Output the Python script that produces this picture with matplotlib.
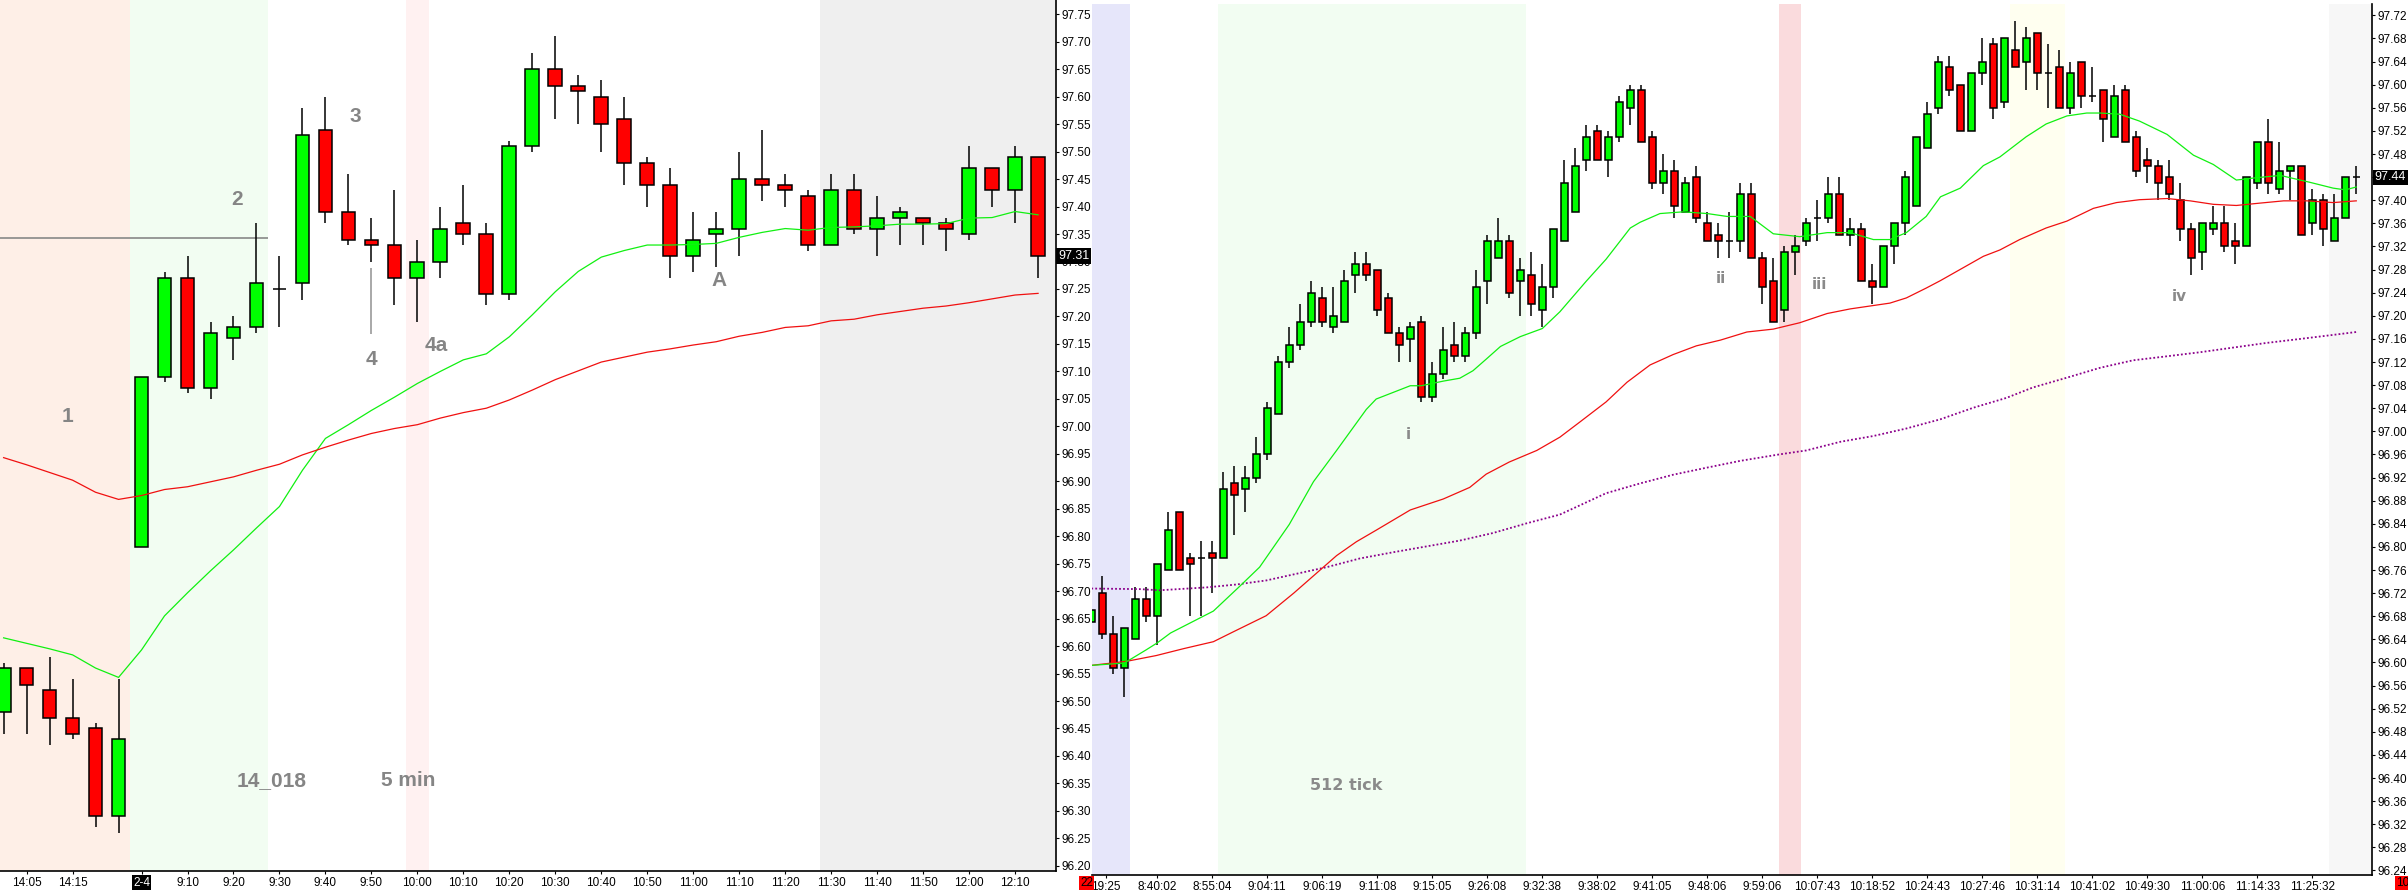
import numpy as np
import matplotlib
matplotlib.use("Agg")
import matplotlib.pyplot as plt

plt.rcParams['font.family'] = ['Liberation Sans', 'DejaVu Sans']

# ---------------- left panel: 5 min bars ----------------
left_open = [96.48, 96.56, 96.52, 96.47, 96.45, 96.29, 96.78, 97.09, 97.27, 97.07,
             97.16, 97.18, 97.25, 97.26, 97.54, 97.39, 97.34, 97.33, 97.27, 97.30,
             97.37, 97.35, 97.24, 97.51, 97.65, 97.62, 97.60, 97.56, 97.48, 97.44,
             97.31, 97.35, 97.36, 97.45, 97.44, 97.42, 97.33, 97.43, 97.36, 97.38,
             97.38, 97.37, 97.35, 97.47, 97.43, 97.49]
left_high = [96.57, 96.56, 96.58, 96.54, 96.46, 96.54, 97.09, 97.28, 97.31, 97.19,
             97.20, 97.37, 97.31, 97.58, 97.60, 97.46, 97.38, 97.43, 97.34, 97.40,
             97.44, 97.37, 97.52, 97.68, 97.71, 97.64, 97.63, 97.60, 97.49, 97.47,
             97.39, 97.39, 97.50, 97.54, 97.46, 97.43, 97.46, 97.46, 97.42, 97.40,
             97.38, 97.38, 97.51, 97.47, 97.51, 97.49]
left_low = [96.44, 96.44, 96.42, 96.43, 96.27, 96.26, 96.78, 97.08, 97.06, 97.05,
            97.12, 97.17, 97.18, 97.23, 97.37, 97.33, 97.30, 97.22, 97.19, 97.27,
            97.33, 97.22, 97.23, 97.50, 97.56, 97.55, 97.50, 97.44, 97.40, 97.27,
            97.28, 97.29, 97.31, 97.41, 97.40, 97.32, 97.33, 97.35, 97.31, 97.33,
            97.33, 97.32, 97.34, 97.40, 97.37, 97.27]
left_close = [96.56, 96.53, 96.47, 96.44, 96.29, 96.43, 97.09, 97.27, 97.07, 97.17,
              97.18, 97.26, 97.25, 97.53, 97.39, 97.34, 97.33, 97.27, 97.30, 97.36,
              97.35, 97.24, 97.51, 97.65, 97.62, 97.61, 97.55, 97.48, 97.44, 97.31,
              97.34, 97.36, 97.45, 97.44, 97.43, 97.33, 97.43, 97.36, 97.38, 97.39,
              97.37, 97.36, 97.47, 97.43, 97.49, 97.31]

left_ema_fast = [96.615, 96.605, 96.595, 96.584, 96.560, 96.543, 96.593, 96.655, 96.697, 96.737,
                 96.775, 96.815, 96.854, 96.920, 96.978, 97.003, 97.029, 97.053, 97.078, 97.100,
                 97.121, 97.132, 97.163, 97.203, 97.245, 97.282, 97.308, 97.320, 97.330, 97.330,
                 97.331, 97.333, 97.344, 97.353, 97.360, 97.357, 97.362, 97.363, 97.365, 97.368,
                 97.368, 97.369, 97.379, 97.380, 97.391, 97.385]
left_ema_slow = [96.943, 96.930, 96.916, 96.902, 96.880, 96.867, 96.874, 96.885, 96.890, 96.899,
                 96.908, 96.920, 96.931, 96.948, 96.962, 96.975, 96.987, 96.996, 97.003, 97.015,
                 97.025, 97.033, 97.048, 97.066, 97.085, 97.101, 97.117, 97.126, 97.135, 97.141,
                 97.148, 97.154, 97.164, 97.171, 97.180, 97.183, 97.192, 97.195, 97.203, 97.209,
                 97.215, 97.219, 97.225, 97.232, 97.239, 97.242]

left_tick_pos = [1, 3, 6, 8, 10, 12, 14, 16, 18, 20, 22, 24, 26, 28, 30, 32, 34, 36, 38, 40, 42, 44]
left_tick_lab = ['14:05', '14:15', '2-4', '9:10', '9:20', '9:30', '9:40', '9:50', '10:00', '10:10',
                 '10:20', '10:30', '10:40', '10:50', '11:00', '11:10', '11:20', '11:30', '11:40',
                 '11:50', '12:00', '12:10']
left_notes = [('1', 2.76, 97.018), ('2', 10.17, 97.412), ('3', 15.3, 97.564), ('4', 16.0, 97.121),
              ('4a', 18.83, 97.148), ('A', 31.12, 97.266), ('14_018', 11.67, 96.356),
              ('5 min', 17.61, 96.356)]
left_last = 97.31

# ---------------- right panel: 512 tick bars ----------------
right_open = [96.67, 96.72, 96.65, 96.59, 96.64, 96.71, 96.68, 96.76, 96.86, 96.78,
              96.78, 96.79, 96.78, 96.91, 96.90, 96.92, 96.96, 97.03, 97.12, 97.15,
              97.19, 97.23, 97.18, 97.19, 97.27, 97.29, 97.28, 97.23, 97.17, 97.16,
              97.19, 97.06, 97.10, 97.15, 97.13, 97.17, 97.26, 97.30, 97.33, 97.26,
              97.27, 97.21, 97.25, 97.33, 97.38, 97.47, 97.52, 97.47, 97.51, 97.56,
              97.59, 97.51, 97.43, 97.45, 97.38, 97.44, 97.36, 97.34, 97.33, 97.33,
              97.41, 97.30, 97.26, 97.21, 97.31, 97.33, 97.37, 97.37, 97.41, 97.34,
              97.35, 97.26, 97.25, 97.32, 97.36, 97.39, 97.49, 97.56, 97.63, 97.60,
              97.52, 97.62, 97.67, 97.57, 97.66, 97.64, 97.69, 97.62, 97.63, 97.56,
              97.64, 97.58, 97.59, 97.51, 97.59, 97.51, 97.47, 97.46, 97.44, 97.40,
              97.35, 97.31, 97.35, 97.36, 97.33, 97.32, 97.43, 97.50, 97.42, 97.45,
              97.46, 97.36, 97.40, 97.33, 97.37, 97.44]
right_high = [96.69, 96.75, 96.68, 96.66, 96.73, 96.73, 96.77, 96.86, 96.86, 96.79,
              96.81, 96.81, 96.93, 96.94, 96.94, 96.99, 97.05, 97.13, 97.18, 97.22,
              97.26, 97.25, 97.25, 97.28, 97.31, 97.31, 97.28, 97.24, 97.18, 97.19,
              97.20, 97.12, 97.18, 97.19, 97.18, 97.28, 97.34, 97.37, 97.34, 97.30,
              97.31, 97.29, 97.35, 97.47, 97.49, 97.53, 97.53, 97.52, 97.58, 97.60,
              97.60, 97.52, 97.48, 97.47, 97.44, 97.46, 97.38, 97.36, 97.38, 97.43,
              97.43, 97.31, 97.30, 97.32, 97.34, 97.37, 97.40, 97.44, 97.44, 97.37,
              97.36, 97.29, 97.32, 97.36, 97.45, 97.51, 97.57, 97.65, 97.65, 97.60,
              97.62, 97.68, 97.68, 97.68, 97.71, 97.70, 97.69, 97.67, 97.66, 97.64,
              97.64, 97.63, 97.59, 97.60, 97.60, 97.52, 97.49, 97.47, 97.47, 97.43,
              97.36, 97.36, 97.39, 97.39, 97.36, 97.44, 97.50, 97.54, 97.50, 97.46,
              97.46, 97.42, 97.41, 97.41, 97.44, 97.46]
right_low = [96.67, 96.64, 96.58, 96.54, 96.64, 96.67, 96.63, 96.76, 96.76, 96.68,
             96.68, 96.72, 96.78, 96.82, 96.86, 96.91, 96.95, 97.03, 97.11, 97.14,
             97.18, 97.18, 97.17, 97.19, 97.24, 97.26, 97.20, 97.17, 97.12, 97.12,
             97.05, 97.05, 97.09, 97.12, 97.12, 97.16, 97.22, 97.30, 97.23, 97.20,
             97.20, 97.18, 97.23, 97.33, 97.38, 97.45, 97.47, 97.44, 97.50, 97.53,
             97.50, 97.42, 97.41, 97.37, 97.38, 97.36, 97.33, 97.30, 97.30, 97.31,
             97.30, 97.22, 97.19, 97.19, 97.27, 97.32, 97.33, 97.36, 97.34, 97.32,
             97.26, 97.22, 97.25, 97.29, 97.34, 97.39, 97.49, 97.55, 97.58, 97.52,
             97.52, 97.60, 97.54, 97.56, 97.63, 97.59, 97.59, 97.56, 97.56, 97.55,
             97.56, 97.57, 97.50, 97.51, 97.50, 97.44, 97.43, 97.40, 97.40, 97.33,
             97.27, 97.28, 97.34, 97.31, 97.29, 97.32, 97.42, 97.41, 97.41, 97.40,
             97.34, 97.34, 97.32, 97.33, 97.37, 97.41]
right_close = [96.69, 96.65, 96.59, 96.66, 96.71, 96.68, 96.77, 96.83, 96.76, 96.77,
               96.78, 96.78, 96.90, 96.89, 96.92, 96.96, 97.04, 97.12, 97.15, 97.19,
               97.24, 97.19, 97.20, 97.26, 97.29, 97.27, 97.21, 97.17, 97.15, 97.18,
               97.06, 97.10, 97.14, 97.13, 97.17, 97.25, 97.33, 97.33, 97.24, 97.28,
               97.22, 97.25, 97.35, 97.43, 97.46, 97.51, 97.47, 97.51, 97.57, 97.59,
               97.50, 97.43, 97.45, 97.39, 97.43, 97.37, 97.33, 97.33, 97.33, 97.41,
               97.30, 97.25, 97.19, 97.31, 97.32, 97.36, 97.37, 97.41, 97.34, 97.35,
               97.26, 97.25, 97.32, 97.36, 97.44, 97.51, 97.55, 97.64, 97.59, 97.52,
               97.62, 97.64, 97.56, 97.68, 97.63, 97.68, 97.62, 97.62, 97.56, 97.62,
               97.58, 97.58, 97.54, 97.58, 97.50, 97.45, 97.46, 97.43, 97.41, 97.35,
               97.30, 97.36, 97.36, 97.32, 97.32, 97.44, 97.50, 97.43, 97.45, 97.46,
               97.34, 97.40, 97.35, 97.37, 97.44, 97.44]

right_fast_x = [0, 3, 5, 6, 7.2, 11.1, 13.5, 15.3, 18, 20.2, 22.3, 25, 25.9, 29, 30, 32, 33.5,
                34.7, 35.9, 37.2, 39, 41, 42.6, 45, 46.8, 49, 49.9, 51.7, 53.8, 56, 57.8, 59.9,
                62, 64.4, 66.9, 69, 71.1, 72.6, 74.1, 75.9, 77.2, 79, 81.1, 82.6, 85, 86.8,
                88.7, 90.5, 91.7, 93.5, 95.3, 97.8, 100.2, 102, 104.1, 105.9, 108.1, 110.8,
                112.9, 114, 115]
right_fast_y = [96.595, 96.599, 96.622, 96.634, 96.651, 96.689, 96.732, 96.765, 96.839, 96.913,
                96.967, 97.038, 97.056, 97.079, 97.079, 97.087, 97.092, 97.105, 97.125, 97.147,
                97.164, 97.178, 97.207, 97.260, 97.298, 97.352, 97.362, 97.377, 97.380, 97.377,
                97.372, 97.372, 97.342, 97.337, 97.344, 97.344, 97.332, 97.332, 97.344, 97.372,
                97.406, 97.421, 97.460, 97.475, 97.510, 97.532, 97.546, 97.551, 97.551, 97.549,
                97.537, 97.514, 97.478, 97.462, 97.435, 97.439, 97.443, 97.431, 97.421, 97.418,
                97.423]
right_slow_x = [0, 3.2, 5.9, 8.4, 11.1, 12.9, 15.9, 18.4, 20.2, 22.3, 24.1, 25.9, 29, 32, 34.4,
                35.9, 38, 40.5, 42.6, 44.4, 46.8, 48.7, 50.8, 52.9, 55, 57.2, 59.6, 62, 64.4,
                66.9, 69, 72.6, 74.1, 75.9, 77.2, 81.1, 82.6, 84.4, 86.8, 88.7, 91.1, 93.2,
                95.3, 97.8, 99.9, 102, 104.1, 106.2, 108.4, 110.5, 112.9, 115]
right_slow_y = [96.595, 96.602, 96.612, 96.624, 96.636, 96.653, 96.681, 96.720, 96.750, 96.785,
                96.809, 96.829, 96.864, 96.883, 96.903, 96.926, 96.947, 96.967, 96.990, 97.016,
                97.051, 97.085, 97.115, 97.133, 97.148, 97.158, 97.172, 97.177, 97.188, 97.204,
                97.212, 97.222, 97.231, 97.248, 97.261, 97.303, 97.314, 97.332, 97.352, 97.364,
                97.386, 97.396, 97.401, 97.403, 97.399, 97.393, 97.391, 97.395, 97.399, 97.399,
                97.396, 97.399]
right_long_x = [0, 4.4, 6.2, 10.5, 13.2, 15.9, 19, 21.4, 24.4, 27.5, 30.5, 33.5, 36.5, 39.6,
                42.6, 46.8, 49.9, 52.9, 55.9, 59, 62.5, 65, 68.1, 71.1, 74.1, 77.2, 80.2, 83.2,
                85.6, 88.7, 91.7, 94.7, 97.8, 100.8, 103.8, 106.8, 109.9, 112.9, 115]
right_long_y = [96.728, 96.727, 96.725, 96.730, 96.735, 96.742, 96.755, 96.765, 96.780, 96.791,
                96.801, 96.811, 96.824, 96.841, 96.856, 96.893, 96.910, 96.925, 96.937, 96.949,
                96.960, 96.967, 96.982, 96.992, 97.005, 97.021, 97.041, 97.058, 97.076, 97.093,
                97.110, 97.123, 97.130, 97.137, 97.145, 97.153, 97.160, 97.167, 97.172]

right_tick_pos = [1.3, 6, 11, 16, 21, 26, 31, 36, 41, 46, 51, 56, 61, 66, 71, 76, 81, 86, 91,
                  96, 101, 106, 111]
right_tick_lab = ['19:25', '8:40:02', '8:55:04', '9:04:11', '9:06:19', '9:11:08', '9:15:05',
                  '9:26:08', '9:32:38', '9:38:02', '9:41:05', '9:48:06', '9:59:06', '10:07:43',
                  '10:18:52', '10:24:43', '10:27:46', '10:31:14', '10:41:02', '10:49:30',
                  '11:00:06', '11:14:33', '11:25:32']
right_notes = [('i', 28.8, 96.995), ('ii', 57.2, 97.265), ('iii', 66.2, 97.255),
               ('iv', 98.9, 97.233), ('512 tick', 23.2, 96.387)]
right_last = 97.44


def draw_candles(ax, o, h, l, c, width):
    o, h, l, c = map(np.asarray, (o, h, l, c))
    x = np.arange(len(o))
    ax.vlines(x, l, h, color='black', lw=1.1, zorder=2)
    up = c > o
    dn = c < o
    dj = c == o
    ax.bar(x[up], (c - o)[up], width, bottom=o[up], color='#00FF00',
           edgecolor='black', lw=1.1, zorder=3)
    ax.bar(x[dn], (o - c)[dn], width, bottom=c[dn], color='#FF0000',
           edgecolor='black', lw=1.1, zorder=3)
    ax.hlines(c[dj], x[dj] - width / 2, x[dj] + width / 2, color='black', lw=1.1, zorder=3)


def style_axis(ax):
    for s in ['top', 'left']:
        ax.spines[s].set_visible(False)
    for s in ['bottom', 'right']:
        ax.spines[s].set_linewidth(1.2)
    ax.yaxis.tick_right()
    ax.tick_params(axis='both', length=2.5, width=0.8, pad=1.5, labelsize=8.5, colors='black')


W, H = 2408, 894
fig = plt.figure(figsize=(W / 100, H / 100), dpi=100, facecolor='white')

# ---- left
axl = fig.add_axes([0, 23 / H, 1056 / W, 871 / H])
axl.set_xlim(-0.157, 45.78)
axl.set_ylim(96.1906, 97.776)
axl.axvspan(-1, 5.5, color='#FEEFE7', lw=0, zorder=0)
axl.axvspan(5.5, 11.5, color='#F2FDF2', lw=0, zorder=0)
axl.axvspan(17.5, 18.5, color='#FFF1F1', lw=0, zorder=0)
axl.axvspan(35.5, 47, color='#EFEFEF', lw=0, zorder=0)
axl.hlines(97.342, -1, 11.5, color='#888888', lw=1.2, zorder=1)
axl.vlines(16, 97.168, 97.288, color='#999999', lw=1.2, zorder=1)
axl.plot(range(len(left_ema_fast)), left_ema_fast, color='#11F011', lw=0.9, zorder=4)
axl.plot(range(len(left_ema_slow)), left_ema_slow, color='#F01010', lw=0.9, zorder=4)
draw_candles(axl, left_open, left_high, left_low, left_close, 0.6)
style_axis(axl)
axl.set_yticks(np.round(np.arange(96.20, 97.751, 0.05), 2))
axl.set_yticklabels(['%.2f' % v for v in np.arange(96.20, 97.751, 0.05)])
axl.set_xticks(left_tick_pos)
axl.set_xticklabels(left_tick_lab)
for lbl in axl.get_xticklabels():
    if lbl.get_text() == '2-4':
        lbl.set_color('white')
        lbl.set_bbox(dict(facecolor='black', edgecolor='none', pad=1.0))
for txt, xi, yi in left_notes:
    axl.text(xi, yi, txt, color='#858585', fontsize=15, fontweight='bold',
             ha='center', va='center', zorder=6)
axl.text(1.002, left_last, '%.2f' % left_last, transform=axl.get_yaxis_transform(),
         ha='left', va='center', color='white', fontsize=9, zorder=10, clip_on=False,
         bbox=dict(facecolor='black', edgecolor='none', pad=1.2))

# ---- right
axr = fig.add_axes([1092 / W, 19 / H, 1280 / W, 871 / H])
axr.set_xlim(0.064, 116.43)
axr.set_ylim(96.2322, 97.7397)
axr.axvspan(-1, 3.5, color='#E6E6FA', lw=0, zorder=0)
axr.axvspan(11.5, 39.5, color='#F2FDF2', lw=0, zorder=0)
axr.axvspan(62.5, 64.5, color='#FADBDD', lw=0, zorder=0)
axr.axvspan(83.5, 88.5, color='#FFFFF0', lw=0, zorder=0)
axr.axvspan(112.5, 118, color='#F7F7F7', lw=0, zorder=0)
axr.plot(right_long_x, right_long_y, color='#8B008B', lw=1.3, ls=(0, (1, 1.2)), zorder=4)
axr.plot(right_slow_x, right_slow_y, color='#F01010', lw=0.9, zorder=4)
axr.plot(right_fast_x, right_fast_y, color='#11F011', lw=0.9, zorder=4)
draw_candles(axr, right_open, right_high, right_low, right_close, 0.6)
style_axis(axr)
axr.set_yticks(np.round(np.arange(96.24, 97.721, 0.04), 2))
axr.set_yticklabels(['%.2f' % v for v in np.arange(96.24, 97.721, 0.04)])
axr.set_xticks(right_tick_pos)
axr.set_xticklabels(right_tick_lab)
for txt, xi, yi in right_notes:
    fs = 11.5 if txt == '512 tick' else 11
    axr.text(xi, yi, txt, color='#8A8A8A', fontsize=fs, fontweight='bold',
             family='DejaVu Sans', ha='center', va='center', zorder=6)
axr.text(1.002, right_last, '%.2f' % right_last, transform=axr.get_yaxis_transform(),
         ha='left', va='center', color='white', fontsize=9, zorder=10, clip_on=False,
         bbox=dict(facecolor='black', edgecolor='none', pad=1.2))

# date boxes under the right panel
fig.text(1080 / W, 1 - 883 / H, '22', color='black', fontsize=8.5, ha='left', va='center',
         bbox=dict(facecolor='#FF0000', edgecolor='none', pad=1.0))
fig.text(2396 / W, 1 - 883 / H, '10', color='black', fontsize=8.5, ha='left', va='center',
         bbox=dict(facecolor='#FF0000', edgecolor='none', pad=1.0))

fig.savefig('out.png', dpi=100, facecolor='white')
